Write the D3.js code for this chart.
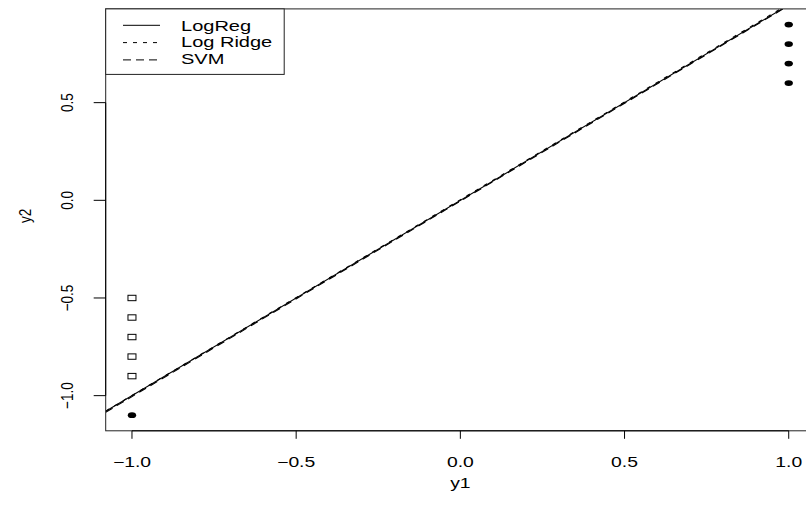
<!DOCTYPE html>
<html>
<head>
<meta charset="utf-8">
<script src="https://cdn.jsdelivr.net/npm/d3@7"></script>
<style>
  body { margin: 0; background: #fff; }
  svg { display: block; }
  text { font-family: "Liberation Sans", Arial, sans-serif; fill: #000; }
</style>
</head>
<body>
<div id="chart"></div>
<script>
// points of class +1 (filled) and -1 (open squares)
const posX = [1, 1, 1, 1, -1];
const posY = [0.9, 0.8, 0.7, 0.6, -1.1];
const negX = [-1, -1, -1, -1, -1];
const negY = [-0.5, -0.6, -0.7, -0.8, -0.9];

// decision boundaries: y2 = a + b * y1
const lineNames = ['LogReg', 'Log Ridge', 'SVM'];
const lineIntercepts = [0, 0.003, -0.004];
const lineSlopes = [1, 1.002, 1.001];
const lineDash = [null, '4,6', '8,5'];

const xTicks = [-1.0, -0.5, 0.0, 0.5, 1.0];
const yTicks = [-1.0, -0.5, 0.0, 0.5];

const width = 806, height = 506;
const sx = 1.38; // horizontal text is drawn wide in the picture

const x = d3.scaleLinear().domain([-1.08, 1.08]).range([105.7, 815]);
const y = d3.scaleLinear().domain([-1.18, 0.98]).range([430.8, 8.9]);

const svg = d3.select('#chart').append('svg')
    .attr('width', width)
    .attr('height', height);

const fmt = d3.format('.1f');
const lab = v => fmt(v).replace('-', '\u2212');

// clip for the plot region
svg.append('defs').append('clipPath').attr('id', 'plot')
  .append('rect')
    .attr('x', x(-1.08)).attr('y', y(0.98))
    .attr('width', x(1.08) - x(-1.08))
    .attr('height', y(-1.18) - y(0.98));

const plot = svg.append('g').attr('clip-path', 'url(#plot)');

// boundary lines
lineNames.forEach((n, i) => {
    const a = lineIntercepts[i], b = lineSlopes[i];
    plot.append('line')
        .attr('x1', x(-1.08)).attr('y1', y(a + b * -1.08))
        .attr('x2', x(1.08)).attr('y2', y(a + b * 1.08))
        .attr('stroke', '#000')
        .attr('stroke-width', 1.1)
        .attr('stroke-dasharray', lineDash[i]);
});

// open squares
plot.selectAll('.neg').data(negX).enter().append('rect')
    .attr('class', 'neg')
    .attr('x', d => x(d) - 4)
    .attr('y', (d, i) => y(negY[i]) - 2.7)
    .attr('width', 8).attr('height', 5.4)
    .attr('fill', '#fff').attr('stroke', '#000').attr('stroke-width', 1);

// filled dots
plot.selectAll('.pos').data(posX).enter().append('ellipse')
    .attr('class', 'pos')
    .attr('cx', d => x(d))
    .attr('cy', (d, i) => y(posY[i]))
    .attr('rx', 4.2).attr('ry', 2.9)
    .attr('fill', '#000');

// box
svg.append('rect')
    .attr('x', x(-1.08)).attr('y', y(0.98))
    .attr('width', x(1.08) - x(-1.08))
    .attr('height', y(-1.18) - y(0.98))
    .attr('fill', 'none').attr('stroke', '#222').attr('stroke-width', 1);

// x axis
const xAxis = svg.append('g');
xAxis.append('line')
    .attr('x1', x(-1)).attr('x2', x(1))
    .attr('y1', y(-1.18)).attr('y2', y(-1.18))
    .attr('stroke', '#000');
xTicks.forEach(t => {
    xAxis.append('line')
        .attr('x1', x(t)).attr('x2', x(t))
        .attr('y1', y(-1.18)).attr('y2', y(-1.18) + 8)
        .attr('stroke', '#000');
    xAxis.append('text')
        .attr('transform', `translate(${x(t)},${y(-1.18) + 36}) scale(${sx},1)`)
        .attr('text-anchor', 'middle')
        .style('font-size', '14px')
        .text(lab(t));
});

// y axis
const yAxis = svg.append('g');
yAxis.append('line')
    .attr('x1', x(-1.08)).attr('x2', x(-1.08))
    .attr('y1', y(-1)).attr('y2', y(0.5))
    .attr('stroke', '#000');
yTicks.forEach(t => {
    yAxis.append('line')
        .attr('x1', x(-1.08) - 12).attr('x2', x(-1.08))
        .attr('y1', y(t)).attr('y2', y(t))
        .attr('stroke', '#000');
    yAxis.append('text')
        .attr('transform', `translate(73,${y(t)}) scale(1.25,1) rotate(-90)`)
        .attr('text-anchor', 'middle')
        .style('font-size', '13.5px')
        .text(lab(t));
});

// axis titles
svg.append('text')
    .attr('transform', `translate(${x(0)},${y(-1.18) + 57}) scale(${sx},1)`)
    .attr('text-anchor', 'middle')
    .style('font-size', '14px')
    .text('y1');
svg.append('text')
    .attr('transform', `translate(31,${y(-0.08)}) scale(1.25,1) rotate(-90)`)
    .attr('text-anchor', 'middle')
    .style('font-size', '13.5px')
    .text('y2');

// legend
const lg = svg.append('g');
lg.append('rect')
    .attr('x', x(-1.08)).attr('y', y(0.98))
    .attr('width', 178.5).attr('height', 65.5)
    .attr('fill', '#fff').attr('stroke', '#222');
lineNames.forEach((n, i) => {
    const ly = 25.3 + i * 17.3;
    lg.append('line')
        .attr('x1', 123).attr('x2', 160)
        .attr('y1', ly).attr('y2', ly)
        .attr('stroke', '#000')
        .attr('stroke-dasharray', lineDash[i]);
    lg.append('text')
        .attr('transform', `translate(181,${30.7 + i * 16.4}) scale(${sx},1)`)
        .style('font-size', '14.5px')
        .text(n);
});
</script>
</body>
</html>
